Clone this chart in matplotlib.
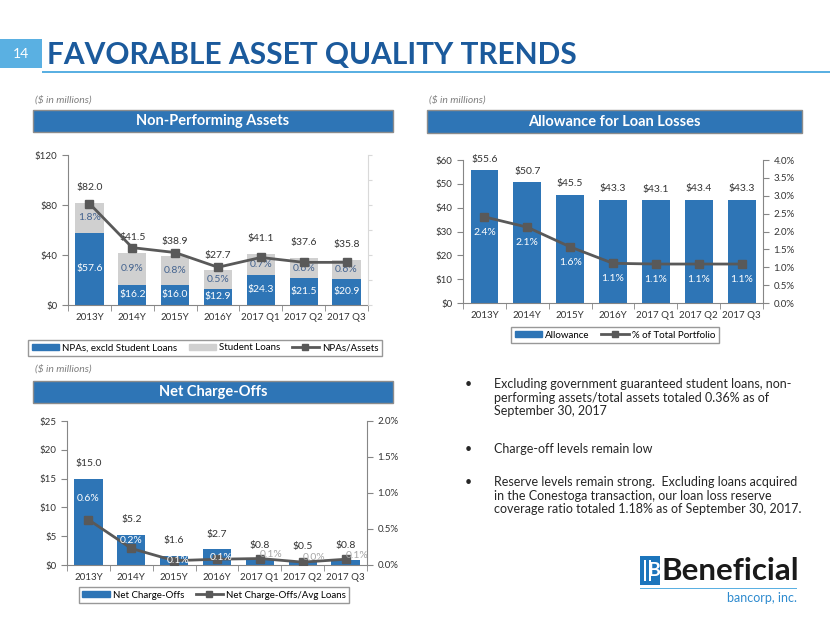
import numpy as np
import matplotlib.pyplot as plt
from matplotlib.patches import Rectangle, Patch
from matplotlib.lines import Line2D
from matplotlib.ticker import FuncFormatter

plt.rcParams['font.family'] = ['Lato', 'DejaVu Sans']

W, H = 830, 623

periods = ['2013Y', '2014Y', '2015Y', '2016Y', '2017 Q1', '2017 Q2', '2017 Q3']

# Non-performing assets ($M) and NPAs/Assets (%)
npa_excl_student = [57.6, 16.2, 16.0, 12.9, 24.3, 21.5, 20.9]
npa_total = [82.0, 41.5, 38.9, 27.7, 41.1, 37.6, 35.8]
npa_to_assets = [1.8, 0.9, 0.8, 0.5, 0.7, 0.6, 0.6]

# Allowance for loan losses ($M) and % of total portfolio
allowance = [55.6, 50.7, 45.5, 43.3, 43.1, 43.4, 43.3]
allowance_pct = [2.41, 2.12, 1.57, 1.11, 1.09, 1.09, 1.09]

# Net charge-offs ($M) and NCO / avg loans (%)
net_chargeoffs = [15.0, 5.2, 1.6, 2.7, 0.8, 0.5, 0.8]
nco_pct = [0.63, 0.23, 0.06, 0.08, 0.09, 0.04, 0.08]

bullets = [
    "Excluding government guaranteed student loans, non-\nperforming assets/total assets totaled 0.36% as of\nSeptember 30, 2017",
    "Charge-off levels remain low",
    "Reserve levels remain strong.  Excluding loans acquired\nin the Conestoga transaction, our loan loss reserve\ncoverage ratio totaled 1.18% as of September 30, 2017.",
]

BLUE = '#2E75B6'
GREY_BAR = '#D0D0D0'
LINE = '#595959'
AXIS = '#868686'
TXT = '#333333'

fig = plt.figure(figsize=(W / 100, H / 100), dpi=100)


def fx(x):
    return x / W


def fy(y):
    return 1 - y / H


def px_axes(x0, y0, x1, y1):
    return fig.add_axes([x0 / W, 1 - y1 / H, (x1 - x0) / W, (y1 - y0) / H])


def box(x0, y0, x1, y1, fc, ec='none', lw=0):
    fig.patches.append(Rectangle((fx(x0), fy(y1)), (x1 - x0) / W, (y1 - y0) / H,
                                 transform=fig.transFigure, facecolor=fc,
                                 edgecolor=ec, linewidth=lw))


def style_axes(ax):
    x = np.arange(len(periods))
    ax.set_xlim(-0.5, len(periods) - 0.5)
    ax.set_xticks(x)
    ax.set_xticklabels(periods, fontsize=7, color=TXT)
    ax.set_xticks(np.arange(-0.5, len(periods)), minor=True)
    ax.tick_params(axis='x', which='major', length=0, pad=6)
    ax.tick_params(axis='x', which='minor', length=4, color=AXIS)
    ax.tick_params(axis='y', labelsize=7, labelcolor=TXT, length=4, color=AXIS)
    for s in ['top', 'right']:
        ax.spines[s].set_visible(False)
    for s in ['left', 'bottom']:
        ax.spines[s].set_color(AXIS)
        ax.spines[s].set_linewidth(0.8)


dollar = FuncFormatter(lambda v, p: '$%d' % v)
pct = FuncFormatter(lambda v, p: '%.1f%%' % v)

legend_kw = dict(loc='center', fontsize=7, frameon=True, fancybox=False,
                 edgecolor='#7F7F7F', handlelength=2.8, handleheight=0.6,
                 columnspacing=1.2, borderpad=0.4, handletextpad=0.3)

# ---------- header ----------
box(0, 39, 42, 68, '#5AB0E2')
fig.text(fx(21), fy(54), '14', color='white', fontsize=10, ha='center', va='center')
fig.text(fx(47), fy(55), 'FAVORABLE ASSET QUALITY TRENDS', color='#1B5A9C',
         fontsize=21.5, fontweight='bold', ha='left', va='center')
box(42, 71, 830, 73, '#5AB0E2')


def panel_header(x0, y0, x1, y1, title, note_y):
    fig.text(fx(x0 + 2), fy(note_y), '($ in millions)', fontsize=7.5, style='italic',
             color='#7F7F7F', ha='left', va='center')
    box(x0, y0, x1, y1, BLUE, ec='#8C8C8C', lw=1)
    fig.text(fx((x0 + x1) / 2), fy((y0 + y1) / 2), title, color='white', fontsize=10.5,
             fontweight='bold', ha='center', va='center')


panel_header(33, 110, 393, 132, 'Non-Performing Assets', 100)
panel_header(427, 110, 802, 133, 'Allowance for Loan Losses', 100)
panel_header(33, 381, 393, 403, 'Net Charge-Offs', 369)

x = np.arange(len(periods))

# ---------- chart 1: NPAs ----------
ax1 = px_axes(68, 155, 368, 305)
student = [t - e for t, e in zip(npa_total, npa_excl_student)]
ax1.bar(x, npa_excl_student, width=0.66, color=BLUE)
ax1.bar(x, student, width=0.66, bottom=npa_excl_student, color=GREY_BAR)
ax1.set_ylim(0, 120)
ax1.set_yticks([0, 40, 80, 120])
ax1.yaxis.set_major_formatter(dollar)
style_axes(ax1)
for i in range(len(periods)):
    ax1.text(x[i], npa_excl_student[i] / 2, '$%.1f' % npa_excl_student[i], color='white',
             fontsize=7.5, ha='center', va='center')
    ax1.text(x[i], (npa_excl_student[i] + npa_total[i]) / 2, '%.1f%%' % npa_to_assets[i],
             color='#44638F', fontsize=7.5, ha='center', va='center')
    ax1.annotate('$%.1f' % npa_total[i], (x[i], npa_total[i]), xytext=(0, 11),
                 textcoords='offset points', ha='center', va='center', fontsize=7.5, color=TXT)
ax1b = ax1.twinx()
ax1b.plot(x, npa_to_assets, color=LINE, lw=2, marker='s', ms=6)
ax1b.set_ylim(-0.27, 2.79)
ax1b.set_yticks(np.linspace(-0.27, 2.79, 7))
ax1b.tick_params(axis='y', length=3, color='#D9D9D9', labelright=False)
for s in ['top', 'left', 'bottom']:
    ax1b.spines[s].set_visible(False)
ax1b.spines['right'].set_color('#D9D9D9')

fig.legend(handles=[Patch(color=BLUE, label='NPAs, excld Student Loans'),
                    Patch(color=GREY_BAR, label='Student Loans'),
                    Line2D([], [], color=LINE, lw=2, marker='s', ms=5, label='NPAs/Assets')],
           bbox_to_anchor=(fx(205), fy(348)), ncol=3, **legend_kw)

# ---------- chart 2: allowance ----------
ax2 = px_axes(463, 160, 763, 303)
ax2.bar(x, allowance, width=0.65, color=BLUE)
ax2.set_ylim(0, 60)
ax2.set_yticks(np.arange(0, 61, 10))
ax2.yaxis.set_major_formatter(dollar)
style_axes(ax2)
for i in range(len(periods)):
    ax2.annotate('$%.1f' % allowance[i], (x[i], allowance[i]), xytext=(0, 8),
                 textcoords='offset points', ha='center', va='center', fontsize=7.5, color=TXT)
ax2b = ax2.twinx()
ax2b.plot(x, allowance_pct, color=LINE, lw=2, marker='s', ms=6)
ax2b.set_ylim(0, 4)
ax2b.set_yticks(np.arange(0, 4.01, 0.5))
ax2b.yaxis.set_major_formatter(pct)
ax2b.tick_params(axis='y', labelsize=7, labelcolor=TXT, length=4, color=AXIS)
for s in ['top', 'left', 'bottom']:
    ax2b.spines[s].set_visible(False)
ax2b.spines['right'].set_color(AXIS)
ax2b.spines['right'].set_linewidth(0.8)
for i in range(len(periods)):
    ax2b.annotate('%.1f%%' % allowance_pct[i], (x[i], allowance_pct[i]), xytext=(0, -11),
                  textcoords='offset points', ha='center', va='center', fontsize=7.5,
                  color='white')

fig.legend(handles=[Patch(color=BLUE, label='Allowance'),
                    Line2D([], [], color=LINE, lw=2, marker='s', ms=5,
                           label='% of Total Portfolio')],
           bbox_to_anchor=(fx(615), fy(335)), ncol=2, **legend_kw)

# ---------- chart 3: net charge-offs ----------
ax3 = px_axes(67, 421, 367, 565)
ax3.bar(x, net_chargeoffs, width=0.66, color=BLUE)
ax3.set_ylim(0, 25)
ax3.set_yticks(np.arange(0, 26, 5))
ax3.yaxis.set_major_formatter(dollar)
style_axes(ax3)
for i in range(len(periods)):
    ax3.annotate('$%.1f' % net_chargeoffs[i], (x[i], net_chargeoffs[i]), xytext=(0, 11),
                 textcoords='offset points', ha='center', va='center', fontsize=7.5, color=TXT)
ax3b = ax3.twinx()
ax3b.plot(x, nco_pct, color=LINE, lw=2, marker='s', ms=6)
ax3b.set_ylim(0, 2)
ax3b.set_yticks(np.arange(0, 2.01, 0.5))
ax3b.yaxis.set_major_formatter(pct)
ax3b.tick_params(axis='y', labelsize=7, labelcolor=TXT, length=4, color=AXIS)
for s in ['top', 'left', 'bottom']:
    ax3b.spines[s].set_visible(False)
ax3b.spines['right'].set_color(AXIS)
ax3b.spines['right'].set_linewidth(0.8)
nco_label_offsets = [(0, 15), (0, 6), (3, 0), (3, 1), (8, 3), (8, 3), (8, 3)]
for i in range(len(periods)):
    ax3b.annotate('%.1f%%' % nco_pct[i], (x[i], nco_pct[i]), xytext=nco_label_offsets[i],
                  textcoords='offset points', ha='center', va='center', fontsize=7.5,
                  color='white' if i < 4 else '#A6A6A6')

fig.legend(handles=[Patch(color=BLUE, label='Net Charge-Offs'),
                    Line2D([], [], color=LINE, lw=2, marker='s', ms=5,
                           label='Net Charge-Offs/Avg Loans')],
           bbox_to_anchor=(fx(214), fy(595)), ncol=2, **legend_kw)

# ---------- bullets ----------
bullet_tops = [378, 443, 476]
for top, b in zip(bullet_tops, bullets):
    fig.text(fx(465), fy(top), '\u2022', fontsize=9, color='#262626', ha='left', va='top')
    fig.text(fx(494), fy(top), b, fontsize=9, color='#262626', ha='left', va='top',
             linespacing=1.15)

# ---------- logo ----------
box(640, 556, 660, 585, '#1C75BC')
for bx in [643.5, 648.5]:
    box(bx, 560, bx + 2.5, 581, 'white')
fig.text(fx(654), fy(571), 'B', color='white', fontsize=14, fontweight='bold',
         ha='center', va='center')
fig.text(fx(661), fy(571), 'Beneficial', color='#1A1A1A', fontsize=22.5, fontweight='bold',
         ha='left', va='center')
box(640, 588, 797, 589, '#5AB0E2')
fig.text(fx(797), fy(598), 'bancorp, inc.', color='#2E8BCF', fontsize=9,
         ha='right', va='center')

fig.savefig('out.png', dpi=100)
